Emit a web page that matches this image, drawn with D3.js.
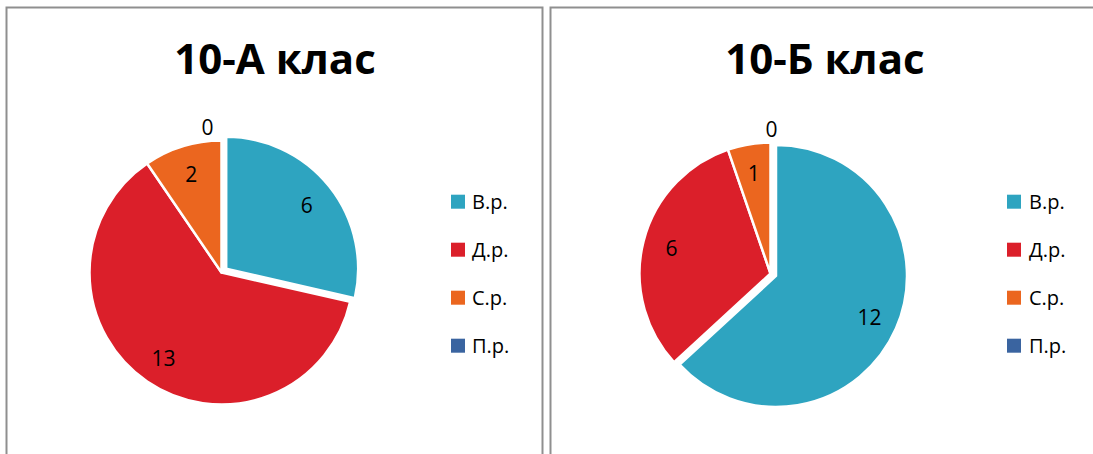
<!DOCTYPE html>
<html>
<head>
<meta charset="utf-8">
<script src="https://cdn.jsdelivr.net/npm/d3@7"></script>
<style>
  html, body { margin: 0; padding: 0; background: #fff; overflow: hidden; }
  svg { display: block; }
</style>
</head>
<body>
<svg id="chart" width="1093" height="454"></svg>
<script>
// ---- data ----
const categories = ["В.р.", "Д.р.", "С.р.", "П.р."];
const titles = ["10-А клас", "10-Б клас"];
const valuesA = [6, 13, 2, 0];
const valuesB = [12, 6, 1, 0];
const colors = ["#2EA4C0", "#DB1F2A", "#EB661F", "#3A64A0"];

// ---- layout (styles / positions) ----
const panels = [
  { title: titles[0], values: valuesA, frame: {x: 6.5, y: 7.5, w: 536, h: 520},
    titleX: 275, titleY: 74, cx: 221.5, cy: 272.5, r: 132, explode: [0],
    legendX: 451, legendTextX: 472, zeroDx: -14, labelRot: 0 },
  { title: titles[1], values: valuesB, frame: {x: 550.5, y: 7.5, w: 700, h: 520},
    titleX: 825, titleY: 74, cx: 770.5, cy: 273.5, r: 131, explode: [0],
    legendX: 1007, legendTextX: 1029, zeroDx: 1, labelRot: 0 }
];
const legendY0 = 201.7, legendStep = 48, legendBox = 14;
const explodeDist = 6;

const svg = d3.select("#chart");
svg.append("defs").append("clipPath").attr("id", "clipAll")
  .append("rect").attr("x", 0).attr("y", 0).attr("width", 1093).attr("height", 454);
const root = svg.append("g").attr("clip-path", "url(#clipAll)");

const color = d3.scaleOrdinal().domain(categories).range(colors);
const pie = d3.pie().sort(null).value(d => d.v).startAngle(0).endAngle(2 * Math.PI);

panels.forEach(p => {
  const g = root.append("g");
  g.append("rect")
    .attr("x", p.frame.x).attr("y", p.frame.y)
    .attr("width", p.frame.w).attr("height", p.frame.h)
    .attr("fill", "#fff").attr("stroke", "#8f8f8f").attr("stroke-width", 2);

  g.append("text")
    .attr("x", p.titleX).attr("y", p.titleY)
    .attr("text-anchor", "middle")
    .attr("font-family", "'Open Sans', 'Noto Sans', sans-serif")
    .attr("font-weight", "bold")
    .attr("font-size", 42)
    .attr("fill", "#000")
    .text(p.title);

  const data = categories.map((c, i) => ({ c, v: p.values[i], i }));
  const arcs = pie(data);
  const arc = d3.arc().innerRadius(0).outerRadius(p.r);
  const labelArc = d3.arc().innerRadius(p.r * 0.78).outerRadius(p.r * 0.78);

  const offset = d => {
    if (!p.explode.includes(d.data.i)) return [0, 0];
    const a = (d.startAngle + d.endAngle) / 2;
    return [Math.sin(a) * explodeDist, -Math.cos(a) * explodeDist];
  };

  const pg = g.append("g").attr("transform", `translate(${p.cx},${p.cy})`);
  pg.selectAll("path.slice").data(arcs.filter(d => d.data.v > 0)).join("path")
    .attr("class", "slice")
    .attr("d", arc)
    .attr("transform", d => `translate(${offset(d)})`)
    .attr("fill", d => color(d.data.c))
    .attr("stroke", "#fff").attr("stroke-width", 2.5).attr("stroke-linejoin", "round");

  pg.selectAll("text.lbl").data(arcs).join("text")
    .attr("class", "lbl")
    .attr("x", d => {
      if (d.data.v === 0) return p.zeroDx;
      return labelArc.centroid(d)[0] + offset(d)[0];
    })
    .attr("y", d => {
      if (d.data.v === 0) return -(p.r + 14);
      return labelArc.centroid(d)[1] + offset(d)[1];
    })
    .attr("text-anchor", "middle")
    .attr("dominant-baseline", "central")
    .attr("font-family", "'Open Sans', 'Noto Sans', sans-serif")
    .attr("font-size", 21)
    .attr("fill", "#000")
    .text(d => d.data.v);

  const lg = g.append("g");
  categories.forEach((c, i) => {
    const y = legendY0 + i * legendStep;
    lg.append("rect")
      .attr("x", p.legendX).attr("y", y - legendBox / 2)
      .attr("width", legendBox).attr("height", legendBox)
      .attr("fill", color(c));
    lg.append("text")
      .attr("x", p.legendTextX).attr("y", y)
      .attr("dominant-baseline", "central")
      .attr("font-family", "'Open Sans', 'Noto Sans', sans-serif")
      .attr("font-size", 20)
      .attr("fill", "#000")
      .text(c);
  });
});
</script>
</body>
</html>
